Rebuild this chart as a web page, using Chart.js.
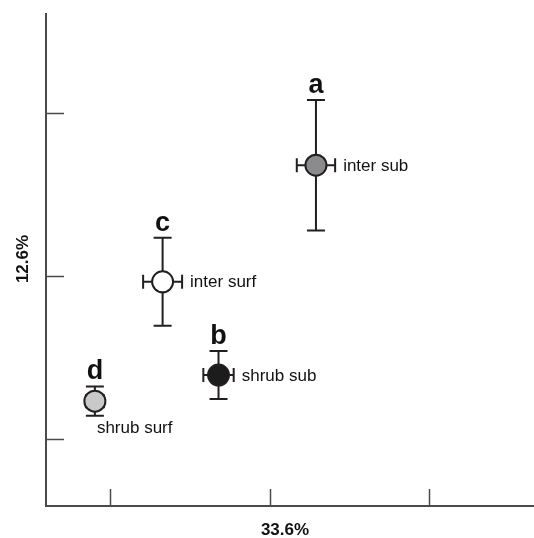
<!DOCTYPE html>
<html>
<head>
<meta charset="utf-8">
<script src="https://cdn.jsdelivr.net/npm/chart.js@4.4.1/dist/chart.umd.min.js"></script>
<style>
  html, body { margin: 0; padding: 0; background: #ffffff; }
  #wrap { width: 534px; height: 538px; position: relative; }
</style>
</head>
<body>
<div id="wrap"><canvas id="c" width="534" height="538"></canvas></div>
<script>
// ---- data ----
const groupNames = ['inter sub', 'inter surf', 'shrub sub', 'shrub surf'];
const groupLetters = ['a', 'c', 'b', 'd'];
const xMean = [0.29, -0.67, -0.32, -1.094];
const yMean = [0.68, -0.035, -0.607, -0.767];
const xErr = [0.12, 0.122, 0.095, 0.056];
const yErr = [0.40, 0.27, 0.147, 0.09];
const xTickValues = [-1, 0, 1];
const yTickValues = [-1, 0, 1];
const xAxisTitle = '33.6%';
const yAxisTitle = '12.6%';

// ---- styles ----
const fillColors = ['#8b8b8d', '#ffffff', '#1c1c1c', '#c9c9c9'];
const labelSide = ['right', 'right', 'right', 'below'];
const ink = '#231f20';
const axisColor = '#4a4a4a';
const FONT = '"Liberation Sans", Arial, Helvetica, sans-serif';

const points = xMean.map((x, i) => ({ x: x, y: yMean[i] }));

const decor = {
  id: 'decor',
  beforeDatasetsDraw(chart) {
    const ctx = chart.ctx;
    const xs = chart.scales.x, ys = chart.scales.y;
    const area = chart.chartArea;
    ctx.save();
    // inward tick marks
    ctx.strokeStyle = axisColor;
    ctx.lineWidth = 1.5;
    xTickValues.forEach(v => {
      const px = Math.round(xs.getPixelForValue(v)) + 0.5;
      ctx.beginPath();
      ctx.moveTo(px, area.bottom);
      ctx.lineTo(px, area.bottom - 17);
      ctx.stroke();
    });
    yTickValues.forEach(v => {
      const py = Math.round(ys.getPixelForValue(v)) + 0.5;
      ctx.beginPath();
      ctx.moveTo(area.left, py);
      ctx.lineTo(area.left + 18, py);
      ctx.stroke();
    });
    // error bars
    ctx.strokeStyle = ink;
    ctx.lineWidth = 2;
    points.forEach((p, i) => {
      const cx = xs.getPixelForValue(p.x);
      const cy = ys.getPixelForValue(p.y);
      const x0 = xs.getPixelForValue(p.x - xErr[i]);
      const x1 = xs.getPixelForValue(p.x + xErr[i]);
      const y0 = ys.getPixelForValue(p.y + yErr[i]);
      const y1 = ys.getPixelForValue(p.y - yErr[i]);
      ctx.beginPath();
      ctx.moveTo(x0, cy); ctx.lineTo(x1, cy);
      ctx.moveTo(x0, cy - 7); ctx.lineTo(x0, cy + 7);
      ctx.moveTo(x1, cy - 7); ctx.lineTo(x1, cy + 7);
      ctx.moveTo(cx, y0); ctx.lineTo(cx, y1);
      ctx.moveTo(cx - 9, y0); ctx.lineTo(cx + 9, y0);
      ctx.moveTo(cx - 9, y1); ctx.lineTo(cx + 9, y1);
      ctx.stroke();
    });
    ctx.restore();
  },
  afterDatasetsDraw(chart) {
    const ctx = chart.ctx;
    const xs = chart.scales.x, ys = chart.scales.y;
    ctx.save();
    ctx.fillStyle = '#111111';
    points.forEach((p, i) => {
      const cx = xs.getPixelForValue(p.x);
      const cy = ys.getPixelForValue(p.y);
      const x1 = xs.getPixelForValue(p.x + xErr[i]);
      const y0 = ys.getPixelForValue(p.y + yErr[i]);
      const y1 = ys.getPixelForValue(p.y - yErr[i]);
      // significance letter
      ctx.font = 'bold 27px ' + FONT;
      ctx.textAlign = 'center';
      ctx.textBaseline = 'alphabetic';
      ctx.fillText(groupLetters[i], cx, y0 - 7);
      // group name
      ctx.font = '17px ' + FONT;
      ctx.textAlign = 'left';
      ctx.textBaseline = 'middle';
      if (labelSide[i] === 'right') {
        ctx.fillText(groupNames[i], x1 + 8, cy + 1);
      } else {
        ctx.fillText(groupNames[i], cx + 2, y1 + 12);
      }
    });
    // axis titles
    ctx.font = 'bold 17px ' + FONT;
    ctx.textAlign = 'center';
    ctx.textBaseline = 'middle';
    ctx.fillText(xAxisTitle, 285, 530);
    ctx.save();
    ctx.translate(23, 259);
    ctx.rotate(-Math.PI / 2);
    ctx.fillText(yAxisTitle, 0, 0);
    ctx.restore();
    ctx.restore();
  }
};

new Chart(document.getElementById('c'), {
  type: 'scatter',
  data: {
    datasets: [{
      data: points,
      pointRadius: 10.5,
      pointHoverRadius: 10.5,
      pointBackgroundColor: fillColors,
      pointBorderColor: ink,
      pointBorderWidth: 2,
      showLine: false
    }]
  },
  options: {
    responsive: false,
    animation: false,
    devicePixelRatio: 1,
    layout: { autoPadding: false, padding: { left: 46, top: 14, right: 0, bottom: 32 } },
    plugins: { legend: { display: false }, tooltip: { enabled: false } },
    scales: {
      x: {
        type: 'linear', min: -1.4, max: 1.655,
        ticks: { display: false },
        grid: { display: false, drawTicks: false },
        border: { display: true, color: axisColor, width: 2 },
        title: { display: false }
      },
      y: {
        type: 'linear', min: -1.41, max: 1.607,
        ticks: { display: false },
        grid: { display: false, drawTicks: false },
        border: { display: true, color: axisColor, width: 2 },
        title: { display: false }
      }
    }
  },
  plugins: [decor]
});
</script>
</body>
</html>
